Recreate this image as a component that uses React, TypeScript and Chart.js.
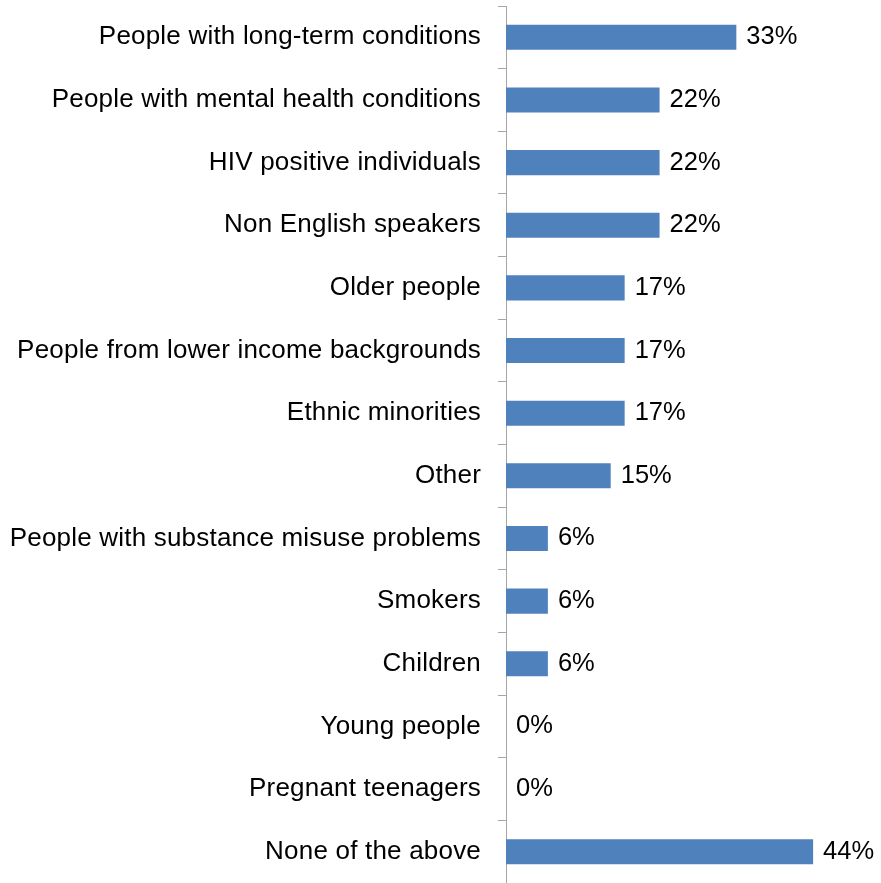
import React, { useEffect, useRef } from "react";
import { Chart, registerables } from "chart.js";

Chart.register(...registerables);

const categories = [
  "People with long-term conditions",
  "People with mental health conditions",
  "HIV positive individuals",
  "Non English speakers",
  "Older people",
  "People from lower income backgrounds",
  "Ethnic minorities",
  "Other",
  "People with substance misuse problems",
  "Smokers",
  "Children",
  "Young people",
  "Pregnant teenagers",
  "None of the above",
];

const values = [33, 22, 22, 22, 17, 17, 17, 15, 6, 6, 6, 0, 0, 44];

const FONT = "Liberation Sans, Arial, sans-serif";

const spacing = {
  id: "spacing",
  beforeDraw(chart: any) {
    chart.ctx.letterSpacing = "0.2px";
  },
};

const valueLabels = {
  id: "valueLabels",
  afterDatasetsDraw(chart: any) {
    const ctx = chart.ctx;
    const meta = chart.getDatasetMeta(0);
    ctx.save();
    ctx.letterSpacing = "0px";
    ctx.font = `25.5px ${FONT}`;
    ctx.fillStyle = "#000000";
    ctx.textAlign = "left";
    ctx.textBaseline = "middle";
    meta.data.forEach((bar: any, i: number) => {
      ctx.fillText(values[i] + "%", bar.x + 10, bar.y);
    });
    ctx.restore();
  },
};

export default function App() {
  const ref = useRef<HTMLCanvasElement>(null);
  useEffect(() => {
    if (!ref.current) return;
    const chart = new Chart(ref.current, {
      type: "bar",
      data: {
        labels: categories,
        datasets: [
          {
            data: values,
            backgroundColor: "#4f81bd",
            borderWidth: 0,
            barPercentage: 0.4,
            categoryPercentage: 1,
          },
        ],
      },
      options: {
        indexAxis: "y",
        animation: false,
        responsive: false,
        maintainAspectRatio: false,
        layout: { padding: { top: 6, right: 26, bottom: 0, left: 0 } },
        plugins: { legend: { display: false }, tooltip: { enabled: false } },
        scales: {
          x: { display: false, min: 0, max: 50 },
          y: {
            offset: true,
            afterFit(scale: any) {
              scale.width = 506;
              scale.paddingTop = 0;
              scale.paddingBottom = 0;
            },
            border: { display: true, color: "#a6a6a6", width: 1 },
            grid: {
              display: true,
              drawOnChartArea: false,
              drawTicks: true,
              tickLength: 8,
              color: "#a6a6a6",
              offset: true,
            },
            ticks: {
              color: "#000000",
              padding: 17,
              font: { family: FONT, size: 26 },
              autoSkip: false,
            },
          },
        },
      },
      plugins: [spacing, valueLabels],
    });
    return () => chart.destroy();
  }, []);
  return (
    <div style={{ position: "fixed", left: 0, top: 0, width: 881, height: 883, background: "#fff" }}>
      <canvas ref={ref} width={881} height={883} style={{ width: 881, height: 883, display: "block" }} />
    </div>
  );
}
